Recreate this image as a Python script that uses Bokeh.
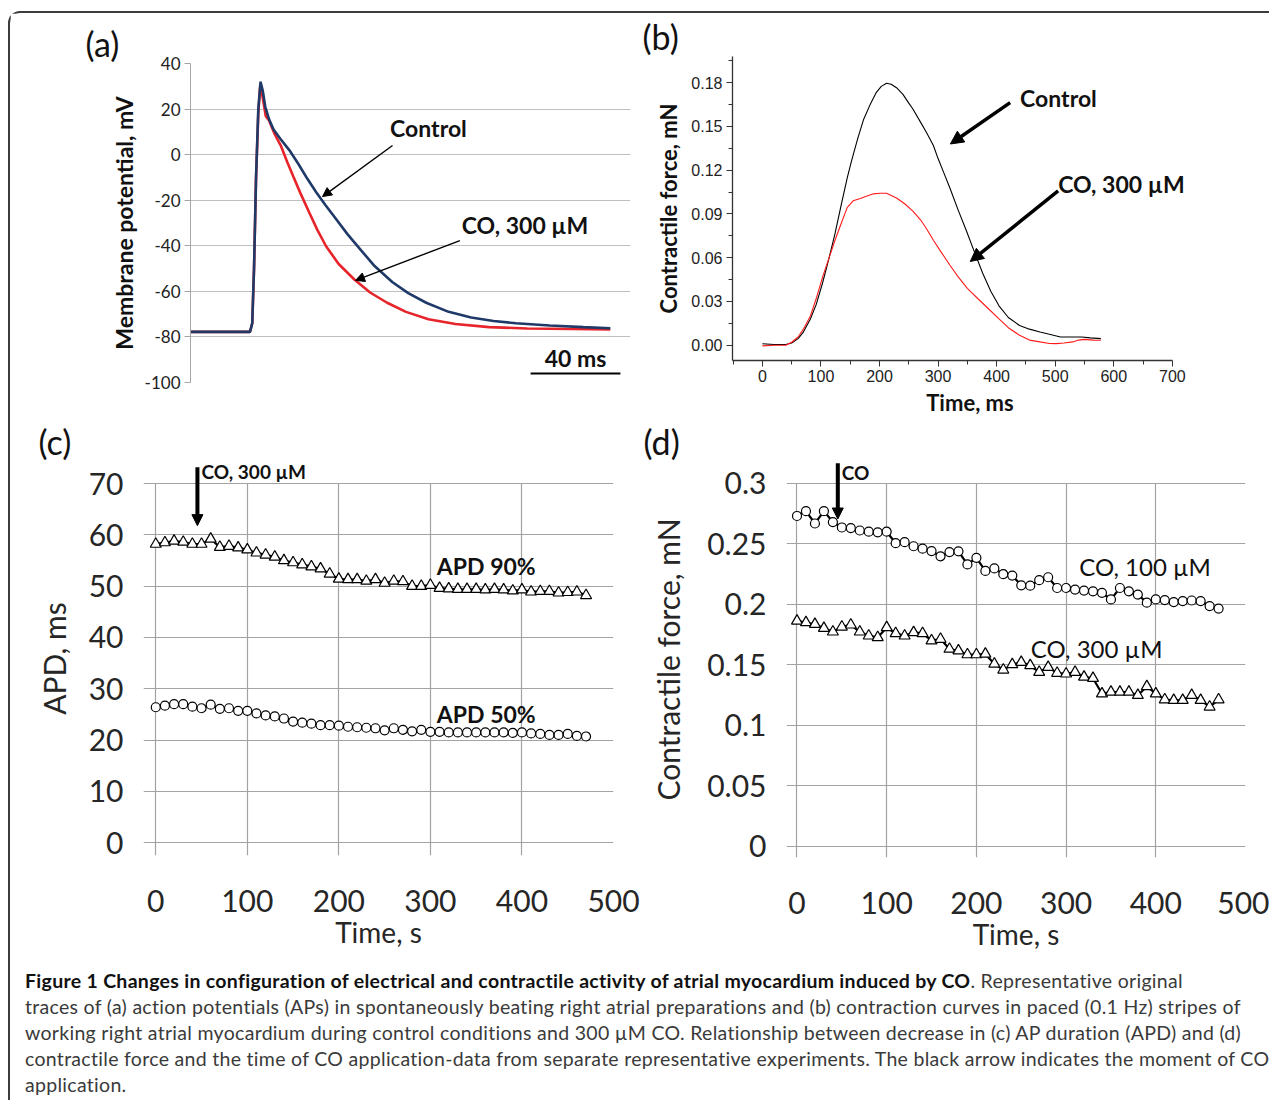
from bokeh.plotting import figure
from bokeh.models import Range1d, FixedTicker, Label, Arrow, NormalHead, Div, NumeralTickFormatter, Title
from bokeh.layouts import column, row
from bokeh.embed import file_html
from bokeh.resources import INLINE

# ---------------- (a) action potentials ----------------
ap_control_t = [0, 26.5, 27.5, 28.3, 29.2, 30.2, 31.2, 32.2, 33.3, 35, 37, 40, 44, 48, 52, 56, 60, 65, 70,
                76, 82, 90, 97, 105, 115, 125, 135, 145, 160, 175, 187]
ap_control_mv = [-77.8, -77.8, -74, -50, -10, 20, 32, 28, 21, 15.5, 11, 7, 2, -4, -10.5, -16.5, -22, -28.5,
                 -35, -42, -48.9, -56, -60.8, -65, -69, -71.5, -73, -74, -75, -75.7, -76.2]
ap_co_t = [0, 26.5, 27.5, 28.3, 29.2, 30.2, 31, 32, 33.5, 35, 37.5, 40.4, 43, 45.8, 49, 53, 56.5, 60.4, 66,
           73, 80, 87.6, 96, 106, 118, 133, 150, 170, 187]
ap_co_mv = [-77.8, -77.8, -74, -50, -10, 18, 29.5, 26, 17, 15, 9, 3.6, -3, -9.6, -17, -25.6, -33, -40.2, -48,
            -54.8, -60.5, -65, -69, -72.2, -74.3, -75.7, -76.3, -76.5, -76.7]
a_y_ticks = [-100, -80, -60, -40, -20, 0, 20, 40]
scalebar_ms = 40

# ---------------- (b) contraction curves ----------------
force_control_t = [0, 20, 40, 50, 61, 70, 82, 92, 103, 114, 124, 135, 145, 152, 163, 173, 184, 194, 203, 212,
                   220, 229, 240, 250, 257, 270, 280, 292, 300, 310, 320, 334, 348, 362, 376, 390, 404, 420,
                   439, 456, 474, 490, 509, 530, 545, 560, 578]
force_control_mn = [0.001, 0.0005, 0.0005, 0.0015, 0.0045, 0.009, 0.018, 0.028, 0.043, 0.06, 0.0765, 0.097,
                    0.115, 0.126, 0.142, 0.155, 0.165, 0.173, 0.1775, 0.1796, 0.179, 0.1766, 0.172, 0.166,
                    0.162, 0.153, 0.146, 0.137, 0.128, 0.118, 0.108, 0.093, 0.0788, 0.064, 0.0495, 0.037,
                    0.027, 0.019, 0.0135, 0.011, 0.009, 0.0075, 0.0056, 0.0056, 0.0056, 0.005, 0.0045]
force_co_t = [0, 20, 40, 50, 61, 70, 82, 92, 103, 114, 124, 135, 145, 155, 166, 180, 190, 201, 212, 229, 243,
              257, 270, 280, 292, 305, 320, 334, 350, 369, 386, 404, 420, 439, 456, 474, 490, 502, 515, 530,
              540, 550, 565, 578]
force_co_mn = [-0.0005, 0.0, 0.0, 0.002, 0.0056, 0.011, 0.02, 0.032, 0.047, 0.06, 0.072, 0.084, 0.0945,
               0.099, 0.1005, 0.1025, 0.1038, 0.1042, 0.1042, 0.101, 0.097, 0.092, 0.086, 0.08, 0.072, 0.064,
               0.055, 0.047, 0.039, 0.0315, 0.025, 0.018, 0.012, 0.0068, 0.0035, 0.00225, 0.0012, 0.0011,
               0.0015, 0.00225, 0.0035, 0.004, 0.0035, 0.0034]
b_x_ticks = [0, 100, 200, 300, 400, 500, 600, 700]
b_x_minor = [-50, 50, 150, 250, 350, 450, 550, 650]
b_y_ticks = [0.0, 0.03, 0.06, 0.09, 0.12, 0.15, 0.18]
b_y_minor = [0.015, 0.045, 0.075, 0.105, 0.135, 0.165, 0.195]

# ---------------- (c) APD vs time ----------------
time_s = [0, 10, 20, 30, 40, 50, 60, 70, 80, 90, 100, 110, 120, 130, 140, 150, 160, 170, 180, 190,
          200, 210, 220, 230, 240, 250, 260, 270, 280, 290, 300, 310, 320, 330, 340, 350, 360, 370, 380, 390,
          400, 410, 420, 430, 440, 450, 460, 470]
apd90_ms = [58.2, 58.5, 58.8, 58.6, 58.2, 58.2, 59.2, 57.6, 57.8, 57.5, 57.1, 56.5, 56.1, 55.7, 55.0, 54.6,
            54.2, 53.8, 53.4, 52.4, 51.4, 51.3, 51.3, 51.0, 51.3, 50.6, 51.0, 50.9, 50.0, 50.0, 50.2, 49.6,
            49.5, 49.4, 49.4, 49.4, 49.3, 49.4, 49.3, 49.1, 49.3, 48.9, 49.0, 49.0, 48.7, 48.8, 48.9, 48.2]
apd50_ms = [26.4, 26.7, 27.0, 27.0, 26.5, 26.2, 26.9, 26.1, 26.2, 25.7, 25.7, 25.2, 24.8, 24.6, 24.2, 23.6,
            23.4, 23.2, 22.9, 22.9, 22.8, 22.6, 22.5, 22.4, 22.3, 21.9, 22.3, 22.0, 21.7, 22.0, 21.6, 21.6,
            21.5, 21.5, 21.5, 21.5, 21.5, 21.5, 21.5, 21.4, 21.5, 21.3, 21.2, 21.0, 21.0, 21.2, 20.8, 20.7]
c_x_ticks = [0, 100, 200, 300, 400, 500]
c_y_ticks = [0, 10, 20, 30, 40, 50, 60, 70]

# ---------------- (d) force vs time ----------------
force_100um = [0.273, 0.277, 0.2668, 0.277, 0.268, 0.2635, 0.263, 0.261, 0.260, 0.2595, 0.260, 0.2505,
               0.2514, 0.248, 0.246, 0.244, 0.2397, 0.2432, 0.2438, 0.233, 0.2384, 0.2276, 0.2297, 0.2249,
               0.2238, 0.2157, 0.2154, 0.220, 0.2224, 0.2135, 0.2135, 0.2122, 0.2114, 0.2108, 0.2095, 0.2041,
               0.2135, 0.2108, 0.2081, 0.2014, 0.2041, 0.2035, 0.2019, 0.2027, 0.2032, 0.2027, 0.1986, 0.1965]
force_300um = [0.1863, 0.185, 0.1836, 0.1803, 0.1773, 0.1814, 0.1831, 0.1773, 0.174, 0.1727, 0.1809, 0.176,
               0.174, 0.1768, 0.176, 0.170, 0.1713, 0.1631, 0.1617, 0.1585, 0.1585, 0.159, 0.1508, 0.1459,
               0.1503, 0.1522, 0.1495, 0.144, 0.1481, 0.1432, 0.1426, 0.144, 0.140, 0.139, 0.1262, 0.1276,
               0.1276, 0.1276, 0.1249, 0.1322, 0.1262, 0.1213, 0.1208, 0.1208, 0.1249, 0.1208, 0.1153, 0.1213]
d_x_ticks = [0, 100, 200, 300, 400, 500]
d_y_ticks = [0, 0.05, 0.1, 0.15, 0.2, 0.25, 0.3]

CO_TIME_S = 45.5

FONT = "Lato"


def make_fig(width, height, xr, yr, left, right, top, bottom):
    p = figure(width=width, height=height, x_range=Range1d(*xr), y_range=Range1d(*yr),
               output_backend="svg", toolbar_location=None,
               min_border_left=left, min_border_right=right, min_border_top=top, min_border_bottom=bottom)
    p.outline_line_color = None
    p.background_fill_color = "white"
    p.border_fill_color = "white"
    p.margin = (0, 0, 0, 0)
    return p


def letter(p, text, offset):
    p.title = Title(text=text, align="left", offset=offset, standoff=0, text_font=FONT,
                    text_font_size="34px", text_font_style="normal", text_color="#111111")


def lab(p, x, y, text, size, bold=False, align="center", font=FONT, color="#111111"):
    p.add_layout(Label(x=x, y=y, text=text, text_font=font, text_font_size=f"{size}px",
                       text_font_style="bold" if bold else "normal", text_align=align,
                       text_baseline="middle", text_color=color))


def arrow(p, x0, y0, x1, y1, lw, head):
    p.add_layout(Arrow(end=NormalHead(size=head, fill_color="black", line_color="black", line_width=1),
                       x_start=x0, y_start=y0, x_end=x1, y_end=y1, line_width=lw, line_color="black"))


def set_cross_bounds(grid, bounds):
    try:
        grid.cross_bounds = bounds
    except Exception:
        pass


# ================= panel (a) =================
pa = make_fig(630, 405, (0, 196), (-100, 40), 180, 10, 50, 36)
letter(pa, "(a)", -105)
pa.xaxis.visible = False
pa.xgrid.visible = False
pa.yaxis.ticker = FixedTicker(ticks=a_y_ticks, minor_ticks=[])
pa.yaxis.major_label_overrides = {t: str(t) for t in a_y_ticks}
pa.ygrid.grid_line_color = "#bfbfbf"
pa.ygrid.grid_line_width = 1.2
pa.yaxis.axis_line_color = "#a6a6a6"
pa.yaxis.major_tick_line_color = "#a6a6a6"
pa.yaxis.major_tick_out = 6
pa.yaxis.major_tick_in = 0
pa.yaxis.major_label_text_font = FONT
pa.yaxis.major_label_text_font_size = "17px"
pa.yaxis.major_label_text_color = "#222222"
pa.yaxis.major_label_standoff = 4
pa.yaxis.axis_label = "Membrane potential, mV"
pa.yaxis.axis_label_text_font = FONT
pa.yaxis.axis_label_text_font_style = "bold"
pa.yaxis.axis_label_text_font_size = "23px"
pa.yaxis.axis_label_text_color = "#111111"
pa.yaxis.axis_label_standoff = 4
pa.line(ap_co_t, ap_co_mv, line_color="#e8242b", line_width=2.6)
pa.line(ap_control_t, ap_control_mv, line_color="#1f3a68", line_width=2.6)
lab(pa, 106, 11.5, "Control", 23, bold=True)
lab(pa, 149, -31, "CO, 300 µM", 23, bold=True)
arrow(pa, 90, 4, 58.8, -18.4, 1.4, 9)
arrow(pa, 120, -37.7, 73.5, -55.2, 1.4, 9)
sb_end = 191.5
lab(pa, sb_end - scalebar_ms / 2, -89.4, f"{scalebar_ms} ms", 23, bold=True)
pa.add_layout(Arrow(end=None, x_start=sb_end - scalebar_ms, y_start=-96, x_end=sb_end, y_end=-96,
                    line_width=2, line_color="black"))

# ================= panel (b) =================
pb = make_fig(629, 405, (-51, 760), (-0.0105, 0.198), 92, 62, 40, 56)
letter(pb, "(b)", -90)
pb.xgrid.visible = False
pb.ygrid.visible = False
pb.xaxis.ticker = FixedTicker(ticks=b_x_ticks, minor_ticks=b_x_minor)
pb.xaxis.bounds = (-51, 700)
pb.yaxis.ticker = FixedTicker(ticks=b_y_ticks, minor_ticks=b_y_minor)
pb.yaxis.formatter = NumeralTickFormatter(format="0.00")
for ax in (pb.xaxis, pb.yaxis):
    ax.axis_line_color = "#333333"
    ax.axis_line_width = 1.3
    ax.major_tick_line_color = "#333333"
    ax.minor_tick_line_color = "#333333"
    ax.major_tick_out = 6
    ax.major_tick_in = 0
    ax.minor_tick_out = 4
    ax.minor_tick_in = 0
    ax.major_label_text_font = "Liberation Sans"
    ax.major_label_text_font_size = "16px"
    ax.major_label_text_color = "#222222"
    ax.axis_label_text_font = FONT
    ax.axis_label_text_font_style = "bold"
    ax.axis_label_text_font_size = "22px"
    ax.axis_label_text_color = "#111111"
pb.xaxis.major_label_standoff = 3
pb.yaxis.major_label_standoff = 4
pb.xaxis.axis_label = "Time, ms"
pb.yaxis.axis_label = "Contractile force, mN"
pb.xaxis.axis_label_standoff = 4
pb.yaxis.axis_label_standoff = 6
pb.line(force_control_t, force_control_mn, line_color="black", line_width=1.1)
pb.line(force_co_t, force_co_mn, line_color="#ff1a1a", line_width=1.1)
lab(pb, 440, 0.1697, "Control", 23, bold=True, align="left")
lab(pb, 505, 0.1105, "CO, 300 µM", 23, bold=True, align="left")
arrow(pb, 423, 0.1664, 321, 0.138, 3.5, 13)
arrow(pb, 505, 0.1058, 355, 0.0574, 3.5, 13)


def excel_axes(p, xticks, yticks):
    p.xaxis.ticker = FixedTicker(ticks=xticks, minor_ticks=[])
    p.yaxis.ticker = FixedTicker(ticks=yticks, minor_ticks=[])
    for g in (p.xgrid, p.ygrid):
        g.grid_line_color = "#a3a3a3"
        g.grid_line_width = 1.2
    for ax in (p.xaxis, p.yaxis):
        ax.axis_line_color = None
        ax.major_tick_line_color = None
        ax.major_tick_out = 0
        ax.major_tick_in = 0
        ax.major_label_text_font = FONT
        ax.major_label_text_font_size = "30px"
        ax.major_label_text_color = "#262626"
        ax.axis_label_text_font = FONT
        ax.axis_label_text_font_style = "normal"
        ax.axis_label_text_color = "#262626"
    p.xaxis.axis_label = "Time, s"
    p.xaxis.axis_label_text_font_size = "28px"
    p.yaxis.axis_label_text_font_size = "30px"
    p.xaxis.major_label_standoff = 34
    p.xaxis.axis_label_standoff = 0
    p.yaxis.major_label_standoff = 20


# ================= panel (c) =================
pc = make_fig(630, 537, (-13.4, 500), (-2.5, 74.3), 133, 27, 43, 100)
letter(pc, "(c)", -105)
excel_axes(pc, c_x_ticks, c_y_ticks)
set_cross_bounds(pc.xgrid, (-2.5, 70))
pc.yaxis.axis_label = "APD, ms"
pc.yaxis.axis_label_standoff = 14
pc.line(time_s, apd90_ms, line_color="black", line_width=2.2)
pc.scatter(time_s, apd90_ms, marker="triangle", size=11, fill_color="white", line_color="black",
           line_width=1.2)
pc.line(time_s, apd50_ms, line_color="black", line_width=2.2)
pc.scatter(time_s, apd50_ms, marker="circle", size=9, fill_color="white", line_color="black",
           line_width=1.2)
lab(pc, 50, 72.3, "CO, 300 µM", 19, bold=True, align="left")
arrow(pc, CO_TIME_S, 73.2, CO_TIME_S, 61.8, 4, 11)
lab(pc, 361, 54.0, "APD 90%", 23, bold=True)
lab(pc, 361, 25.0, "APD 50%", 23, bold=True)

# ================= panel (d) =================
pd_ = make_fig(629, 537, (-11.7, 500), (-0.0091, 0.318), 146, 24, 43, 98)
letter(pd_, "(d)", -143)
excel_axes(pd_, d_x_ticks, d_y_ticks)
set_cross_bounds(pd_.xgrid, (-0.0091, 0.3))
pd_.yaxis.formatter = NumeralTickFormatter(format="0.[00]")
pd_.yaxis.axis_label = "Contractile force, mN"
pd_.yaxis.axis_label_standoff = 18
pd_.line(time_s, force_100um, line_color="black", line_width=2.2)
pd_.scatter(time_s, force_100um, marker="circle", size=9, fill_color="white", line_color="black",
            line_width=1.2)
pd_.line(time_s, force_300um, line_color="black", line_width=2.2)
pd_.scatter(time_s, force_300um, marker="triangle", size=11, fill_color="white", line_color="black",
            line_width=1.2)
lab(pd_, 50, 0.309, "CO", 19, bold=True, align="left")
arrow(pd_, CO_TIME_S, 0.3165, CO_TIME_S, 0.2705, 4, 11)
lab(pd_, 388, 0.231, "CO, 100 µM", 24)
lab(pd_, 334, 0.1636, "CO, 300 µM", 24)

# ================= caption =================
caption_html = (
    "<div style=\"font-family:'Lato',sans-serif;font-size:19.5px;letter-spacing:0.3px;line-height:26px;"
    "color:#3a3a3a;white-space:nowrap;padding:13px 0 0 15px;height:145px;box-sizing:border-box;"
    "overflow:hidden;\">"
    "<b style='color:#111'>Figure 1 Changes in configuration of electrical and contractile activity of "
    "atrial myocardium induced by CO</b>. Representative original<br>"
    "traces of (a) action potentials (APs) in spontaneously beating right atrial preparations and (b) "
    "contraction curves in paced (0.1 Hz) stripes of<br>"
    "working right atrial myocardium during control conditions and 300 µM CO. Relationship between "
    "decrease in (c) AP duration (APD) and (d)<br>"
    "contractile force and the time of CO application-data from separate representative experiments. "
    "The black arrow indicates the moment of CO<br>"
    "application.</div>"
)
cap = Div(text=caption_html, width=1259, height=145, margin=(0, 0, 0, 0))


def solo(p):
    return column(p, margin=(0, 0, 0, 0))


layout = column(row(solo(pa), solo(pb), margin=(0, 0, 0, 0)),
                row(solo(pc), solo(pd_), margin=(0, 0, 0, 0)),
                cap,
                margin=(11, 0, 0, 8),
                styles={"border-top": "2px solid #3c3c3c", "border-left": "2px solid #3c3c3c",
                        "border-top-left-radius": "12px"})

open("out.html", "w").write(file_html(layout, INLINE))
